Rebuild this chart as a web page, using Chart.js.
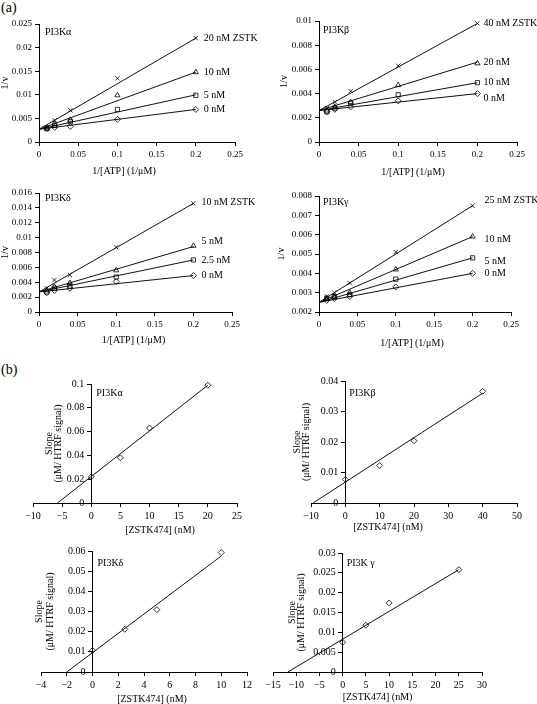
<!DOCTYPE html>
<html>
<head>
<meta charset="utf-8">
<script src="https://cdn.jsdelivr.net/npm/chart.js@4.4.0/dist/chart.umd.min.js"></script>
<style>
  body { margin: 0; background: #fff; width: 537px; height: 704px; position: relative; overflow: hidden; font-family: "Liberation Serif", serif; }
  canvas { position: absolute; }
  .tag { position: absolute; font-size: 14px; line-height: 1; }
</style>
</head>
<body>
<div class="tag" style="left:1px;top:1px">(a)</div>
<div class="tag" style="left:1px;top:363px">(b)</div>
<canvas id="aTL" width="268" height="170" style="left:0;top:12px"></canvas>
<canvas id="aTR" width="259" height="172" style="left:278px;top:10px"></canvas>
<canvas id="aBL" width="268" height="170" style="left:0;top:182px"></canvas>
<canvas id="aBR" width="259" height="170" style="left:278px;top:182px"></canvas>
<canvas id="bTL" width="268" height="175" style="left:0;top:365px"></canvas>
<canvas id="bTR" width="259" height="175" style="left:278px;top:365px"></canvas>
<canvas id="bBL" width="268" height="164" style="left:0;top:540px"></canvas>
<canvas id="bBR" width="282" height="164" style="left:255px;top:540px"></canvas>
<script>
// (a) double-reciprocal plots: 1/v against 1/[ATP]
const atpInv = [0.01, 0.02, 0.04, 0.1, 0.2];
const lbFitX = [0, 0.2];

const alphaLabels = ['0 nM', '5 nM', '10 nM', '20 nM ZSTK'];
const alphaV = [
  [0.0029, 0.0031, 0.0033, 0.0048, 0.0069],
  [0.0028, 0.0035, 0.0043, 0.0069, 0.0099],
  [0.0029, 0.0038, 0.0047, 0.0099, 0.0148],
  [0.0031, 0.0046, 0.0067, 0.0135, 0.0220]
];
const alphaFit = [[0.0027, 0.0069], [0.0027, 0.0100], [0.0027, 0.0148], [0.0027, 0.0220]];

const betaLabels = ['0 nM', '10 nM', '20 nM', '40 nM ZSTK'];
const betaV = [
  [0.0025, 0.0027, 0.0029, 0.0034, 0.0040],
  [0.0025, 0.0028, 0.0032, 0.0039, 0.0049],
  [0.0026, 0.0029, 0.0033, 0.0047, 0.0065],
  [0.0028, 0.0033, 0.0042, 0.0063, 0.0098]
];
const betaFit = [[0.0026, 0.0040], [0.0026, 0.0049], [0.0026, 0.0066], [0.0026, 0.0098]];

const deltaLabels = ['0 nM', '2.5 nM', '5 nM', '10 nM ZSTK'];
const deltaV = [
  [0.0026, 0.0029, 0.0032, 0.0041, 0.0049],
  [0.0027, 0.0032, 0.0035, 0.0047, 0.0070],
  [0.0029, 0.0034, 0.0039, 0.0056, 0.0089],
  [0.0032, 0.0043, 0.0050, 0.0087, 0.0146]
];
const deltaFit = [[0.0027, 0.0049], [0.0027, 0.0070], [0.0027, 0.0088], [0.0027, 0.0146]];

const gammaLabels = ['0 nM', '5 nM', '10 nM', '25 nM ZSTK'];
const gammaV = [
  [0.0026, 0.0027, 0.0028, 0.0033, 0.0040],
  [0.0027, 0.0028, 0.0029, 0.0037, 0.0048],
  [0.0027, 0.0028, 0.0030, 0.0042, 0.0059],
  [0.0028, 0.0030, 0.0035, 0.0051, 0.0075]
];
const gammaFit = [[0.0025, 0.0040], [0.0025, 0.0048], [0.0025, 0.0059], [0.0025, 0.0075]];

// (b) secondary plots: slope against [ZSTK474]
const alphaConc = [0, 5, 10, 20];
const alphaSlope = [0.022, 0.038, 0.063, 0.099];
const alphaSlopeFit = [[-5.8, 0], [20, 0.099]];

const betaConc = [0, 10, 20, 40];
const betaSlope = [0.0077, 0.0123, 0.0204, 0.0366];
const betaSlopeFit = [[-9.4, 0], [40, 0.036]];

const deltaConc = [0, 2.5, 5, 10];
const deltaSlope = [0.0107, 0.0212, 0.0309, 0.0592];
const deltaSlopeFit = [[-2, 0], [10, 0.0575]];

const gammaConc = [0, 5, 10, 25];
const gammaSlope = [0.0075, 0.0118, 0.0174, 0.0258];
const gammaSlopeFit = [[-11.8, 0], [25, 0.0258]];

const FONT = 'Liberation Serif';
const markerStyles = ['rectRot', 'rect', 'triangle', 'crossRot'];
const fmt = v => String(+(+v).toFixed(4)).replace('-', '\u2212');

// draws panel name, series labels, axis titles, and the y tick labels of axes crossing at x = 0
const panelText = {
  id: 'panelText',
  afterDraw(chart, args, o) {
    const { ctx, chartArea: a, scales } = chart;
    ctx.save();
    ctx.fillStyle = '#000';
    ctx.textBaseline = 'middle';
    const ax = o.cross ? scales.x.getPixelForValue(0) : a.left;

    if (o.cross) {
      ctx.font = `10px "${FONT}"`;
      ctx.textAlign = 'right';
      scales.y.ticks.forEach(t => {
        ctx.fillText(fmt(t.value), ax - 7, scales.y.getPixelForValue(t.value));
      });
    }

    ctx.font = `10px "${FONT}"`;
    ctx.textAlign = 'left';
    ctx.fillText(o.name, ax + o.nameDx, a.top + o.nameDy);

    (o.labels || []).forEach((lab, i) => {
      const pts = chart.getDatasetMeta(i).data;
      const p = pts[pts.length - 1];
      ctx.fillText(lab, p.x + o.labelDx, p.y + (o.labelDy[i] || 0));
    });

    ctx.textAlign = 'center';
    ctx.fillText(o.xTitle, (a.left + a.right) / 2 + o.xTitleDx, a.bottom + o.xTitleDy);

    const cy = (a.top + a.bottom) / 2;
    o.yTitle.forEach((line, j) => {
      ctx.save();
      ctx.translate(ax + o.yTitleDx[j], cy);
      ctx.rotate(-Math.PI / 2);
      ctx.fillText(line, 0, 0);
      ctx.restore();
    });
    ctx.restore();
  }
};

function axis(min, max, step, size, extra, showLabels) {
  return Object.assign({
    type: 'linear', min, max,
    ticks: { display: showLabels !== false, stepSize: step, autoSkip: false, maxRotation: 0, color: '#000', padding: 3,
             font: { family: FONT, size }, callback: fmt },
    grid: { display: true, drawOnChartArea: false, drawTicks: true, tickLength: 4, color: '#000', lineWidth: 1 },
    border: { display: true, color: '#000', width: 1 }
  }, extra);
}

function makeChart(id, g, datasets, xs, ys, text) {
  const cross = !!text.cross;
  new Chart(document.getElementById(id), {
    type: 'scatter',
    data: { datasets },
    options: {
      responsive: false,
      animation: false,
      layout: { padding: { left: g.padLeft || 0, right: g.padRight, top: g.padTop, bottom: 0 } },
      plugins: { legend: { display: false }, tooltip: { enabled: false }, panelText: text },
      scales: {
        x: axis(xs[0], xs[1], xs[2], cross ? 10 : 9, { afterFit: s => { s.height = g.xH; } }),
        y: axis(ys[0], ys[1], ys[2], cross ? 10 : 9, cross
          ? { position: { x: 0 } }
          : { position: 'left', afterFit: s => { s.width = g.yW; } }, !cross)
      }
    },
    plugins: [panelText]
  });
}

function markerSet(points, style) {
  return { data: points, pointStyle: style, pointRadius: 3, pointBorderWidth: 0.8,
           borderColor: '#000', backgroundColor: 'rgba(0,0,0,0)', showLine: false, clip: false };
}
function lineSet(points) {
  return { data: points, showLine: true, pointRadius: 0, borderColor: '#111', borderWidth: 1, clip: false };
}

function lbDatasets(vals, fits) {
  const ds = vals.map((row, i) => markerSet(row.map((y, j) => ({ x: atpInv[j], y })), markerStyles[i]));
  fits.forEach(f => ds.push(lineSet(f.map((y, j) => ({ x: lbFitX[j], y })))));
  return ds;
}
function slopeDatasets(conc, slope, fit) {
  return [
    markerSet(conc.map((x, i) => ({ x, y: slope[i] })), 'rectRot'),
    lineSet(fit.map(p => ({ x: p[0], y: p[1] })))
  ];
}

const lbX = [0, 0.25, 0.05];
const lbText = (name, labels, o) => Object.assign({
  name, labels, nameDx: 6, nameDy: 8, labelDx: 8, labelDy: [],
  xTitle: '1/[ATP] (1/\u03bcM)', xTitleDx: 0, xTitleDy: 29, yTitle: ['1/v'], yTitleDx: [-34]
}, o);

makeChart('aTL', { yW: 39, padRight: 33, padTop: 12, xH: 40 }, lbDatasets(alphaV, alphaFit),
  lbX, [0, 0.025, 0.005], lbText('PI3K\u03b1', alphaLabels, { xTitleDx: -13 }));
makeChart('aTR', { yW: 41, padRight: 20, padTop: 11, xH: 40 }, lbDatasets(betaV, betaFit),
  lbX, [0, 0.01, 0.002], lbText('PI3K\u03b2', betaLabels, { nameDx: 4, nameDy: 9, labelDx: 6, labelDy: [5, 0, -1, 0], xTitleDx: -5, xTitleDy: 30, yTitleDx: [-35] }));
makeChart('aBL', { yW: 39, padRight: 36, padTop: 11, xH: 40 }, lbDatasets(deltaV, deltaFit),
  lbX, [0, 0.016, 0.002], lbText('PI3K\u03b4', deltaLabels, { nameDy: 5, labelDy: [0, 0, -4, -1], xTitleDx: -2, xTitleDy: 28 }));
makeChart('aBR', { yW: 41, padRight: 26, padTop: 14, xH: 40 }, lbDatasets(gammaV, gammaFit),
  lbX, [0.002, 0.008, 0.001], lbText('PI3K\u03b3', gammaLabels, { nameDx: 4, nameDy: 6, labelDx: 12, labelDy: [0, 4, 3, -5], xTitleDx: -3, xTitleDy: 31, yTitleDx: [-38] }));

const slText = (name, o) => Object.assign({
  name, cross: true, nameDx: 5, nameDy: 9,
  xTitle: '[ZSTK474] (nM)', xTitleDx: 0, xTitleDy: 27,
  yTitle: ['Slope', '(\u03bcM/ HTRF signal)'], yTitleDx: [-42, -33]
}, o);

makeChart('bTL', { padLeft: 33, padRight: 31, padTop: 19, xH: 37 }, slopeDatasets(alphaConc, alphaSlope, alphaSlopeFit),
  [-10, 25, 5], [0, 0.1, 0.02], slText('PI3K\u03b1', { xTitleDx: 25 }));
makeChart('bTR', { padLeft: 33, padRight: 20, padTop: 16, xH: 37 }, slopeDatasets(betaConc, betaSlope, betaSlopeFit),
  [-10, 50, 10], [0, 0.04, 0.01], slText('PI3K\u03b2', { nameDx: 4, nameDy: 12, xTitleDx: -26, xTitleDy: 24, yTitleDx: [-48, -39] }));
makeChart('bBL', { padLeft: 41, padRight: 21, padTop: 11, xH: 32 }, slopeDatasets(deltaConc, deltaSlope, deltaSlopeFit),
  [-4, 12, 2], [0, 0.06, 0.01], slText('PI3K\u03b4', { nameDy: 12, xTitleDx: 8, yTitleDx: [-53, -42] }));
makeChart('bBR', { padLeft: 18, padRight: 55, padTop: 13, xH: 32 }, slopeDatasets(gammaConc, gammaSlope, gammaSlopeFit),
  [-15, 30, 5], [0, 0.03, 0.005], slText('PI3K \u03b3', { nameDx: 4, nameDy: 10, xTitleDy: 25, yTitleDx: [-50, -41] }));
</script>
</body>
</html>
